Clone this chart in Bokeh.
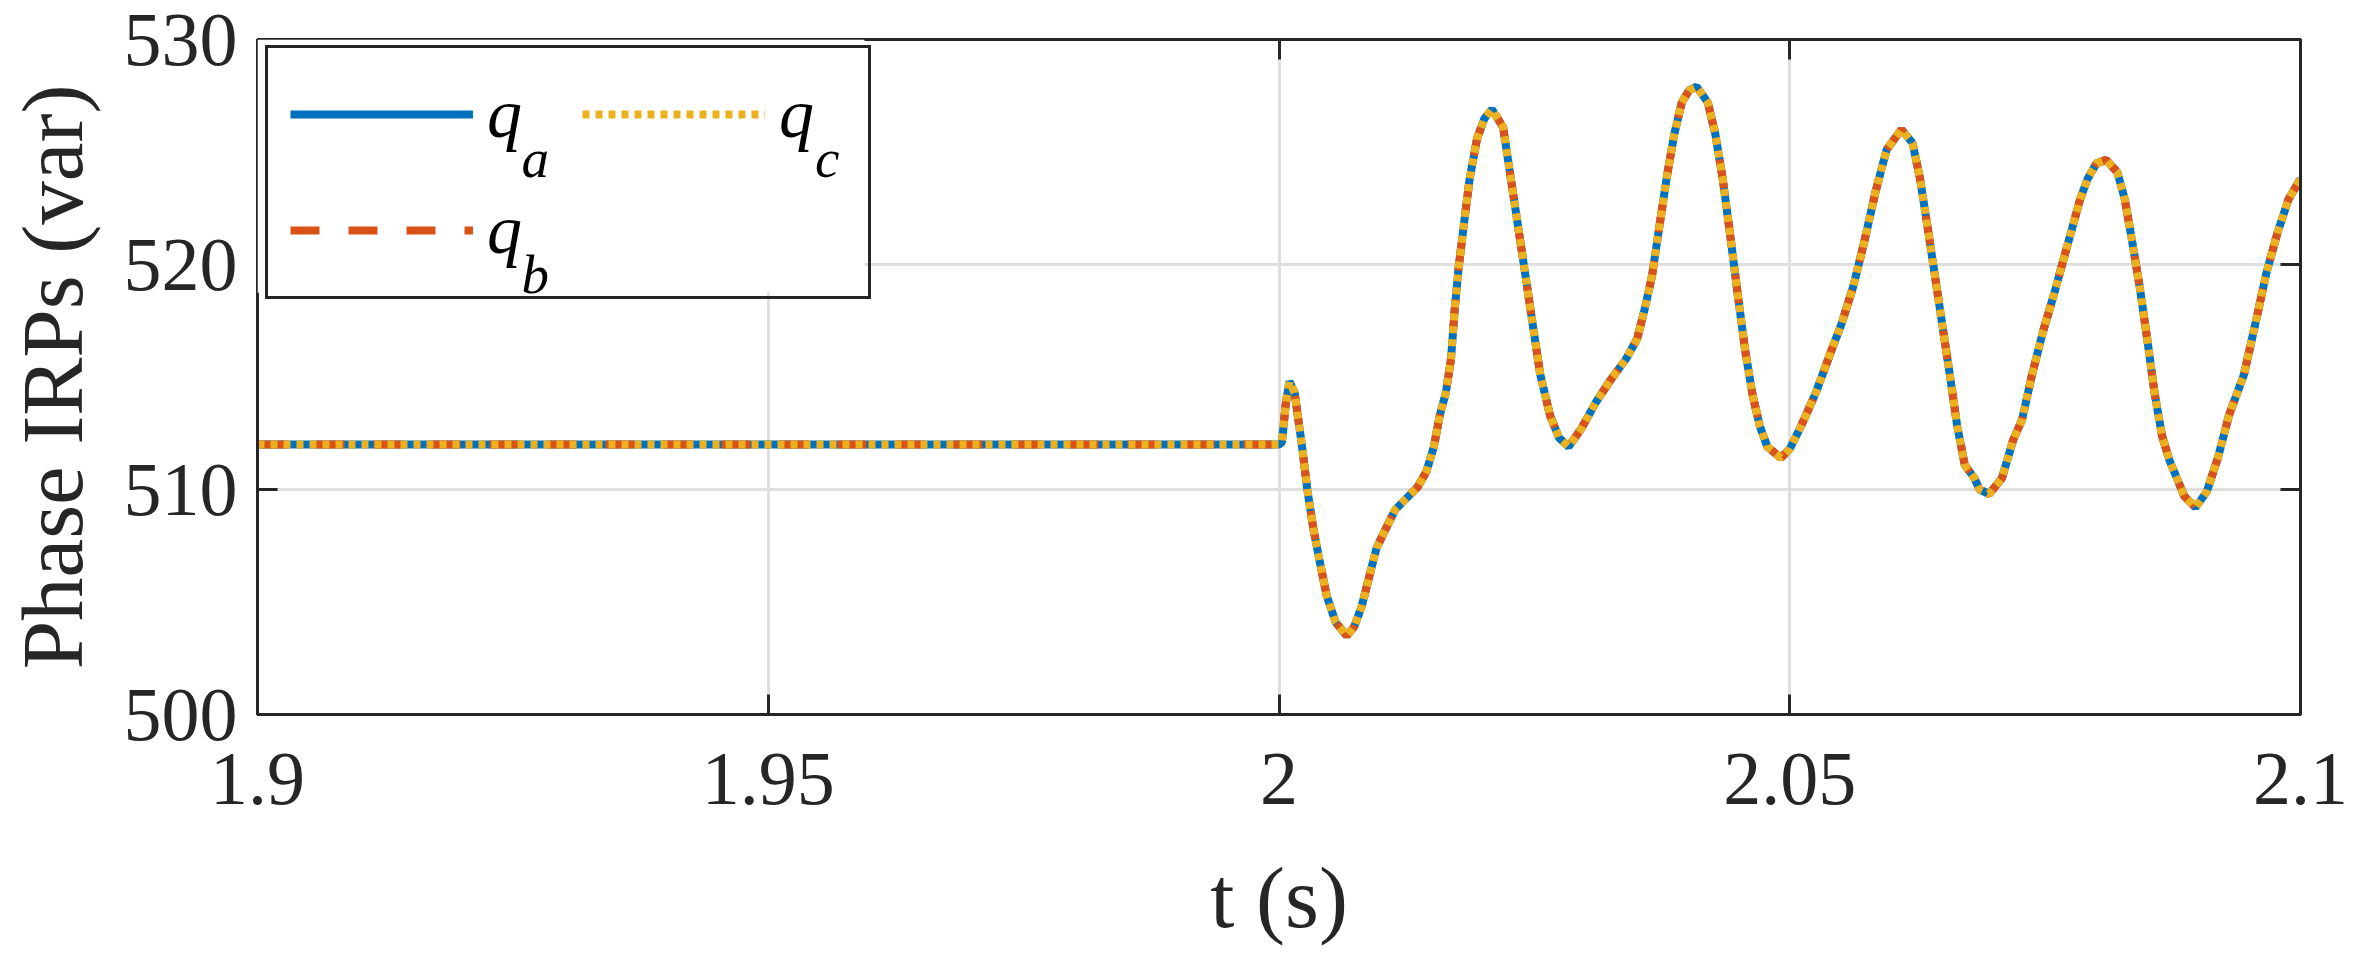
from bokeh.plotting import figure
from bokeh.models import (Range1d, FixedTicker, LinearAxis, CustomJSTickFormatter,
                          Legend, LegendItem, Label, BoxAnnotation)
from bokeh.embed import file_html
from bokeh.resources import INLINE

# ---------------- data ----------------
t = [1.9, 2.0, 2.00029, 2.00066, 2.00102, 2.00153, 2.00226, 2.00277, 2.00335, 2.00394,
     2.00466, 2.00554, 2.00663, 2.00736, 2.00809, 2.00882, 2.00955, 2.01050, 2.01137, 2.01246,
     2.01356, 2.01443, 2.01516, 2.01574, 2.01633, 2.01684, 2.01720, 2.01757, 2.01808, 2.01866,
     2.01939, 2.02012, 2.02085, 2.02194, 2.02267, 2.02340, 2.02413, 2.02485, 2.02558, 2.02653,
     2.02741, 2.02835, 2.02959, 2.03105, 2.03251, 2.03397, 2.03506, 2.03579, 2.03652, 2.03724,
     2.03797, 2.03870, 2.03943, 2.04016, 2.04089, 2.04198, 2.04271, 2.04344, 2.04417, 2.04490,
     2.04563, 2.04636, 2.04708, 2.04781, 2.04913, 2.05000, 2.05109, 2.05255, 2.05401, 2.05510,
     2.05620, 2.05729, 2.05838, 2.05948, 2.06093, 2.06202, 2.06276, 2.06348, 2.06421, 2.06494,
     2.06567, 2.06640, 2.06713, 2.06808, 2.06858, 2.06953, 2.07077, 2.07187, 2.07274, 2.07369,
     2.07478, 2.07588, 2.07697, 2.07770, 2.07843, 2.07915, 2.08003, 2.08098, 2.08207, 2.08280,
     2.08353, 2.08426, 2.08499, 2.08571, 2.08644, 2.08717, 2.08863, 2.08972, 2.09082, 2.09191,
     2.09300, 2.09446, 2.09555, 2.09665, 2.09774, 2.09883, 2.1]

q_a = [512.0, 512.0, 512.1, 513.8, 514.8, 514.3, 511.9, 510.0, 508.3, 506.9,
       505.3, 504.1, 503.5, 503.9, 504.8, 506.1, 507.4, 508.3, 509.1, 509.6,
       510.1, 510.8, 511.9, 513.3, 514.3, 515.8, 518.0, 519.8, 521.7, 523.8,
       525.6, 526.5, 526.9, 526.1, 523.9, 521.7, 519.5, 517.3, 515.1, 513.3,
       512.3, 511.9, 512.7, 513.9, 514.9, 515.8, 516.7, 518.0, 519.5, 521.7,
       523.9, 525.8, 527.2, 527.75, 527.9, 527.2, 525.8, 523.8, 521.3, 518.7,
       516.2, 514.2, 512.8, 511.9, 511.4, 511.8, 512.8, 514.3, 516.1, 517.4,
       519.0, 521.0, 523.2, 525.1, 526.0, 525.4, 523.8, 521.7, 519.5, 517.3,
       515.1, 512.8, 511.1, 510.5, 510.0, 509.8, 510.5, 512.2, 513.1, 515.05,
       517.0, 518.7, 520.5, 521.7, 522.9, 523.8, 524.5, 524.65, 524.1, 522.9,
       521.0, 519.0, 516.7, 514.3, 512.4, 511.3, 509.7, 509.2, 509.9, 511.4,
       513.3, 515.1, 517.3, 519.6, 521.4, 522.9, 523.8]
# the three phase curves coincide in the figure
q_b = list(q_a)
q_c = list(q_a)

series_label = ["q", "q", "q"]
subscripts = ["a", "b", "c"]
x_ticks = [1.9, 1.95, 2.0, 2.05, 2.1]
y_ticks = [500, 510, 520, 530]

# ---------------- style ----------------
FONT = "Liberation Serif"
DARK = "#262626"
C_A, C_B, C_C = "#0072BD", "#D95319", "#EDB120"

p = figure(frame_width=2043, frame_height=675,
           x_range=Range1d(1.9, 2.1), y_range=Range1d(500, 530),
           output_backend="svg", toolbar_location=None,
           min_border_left=256, min_border_right=51, min_border_top=39, min_border_bottom=226,
           background_fill_color="white", border_fill_color="white",
           outline_line_color=DARK, outline_line_width=3, outline_line_alpha=1.0)

xa = p.below[0]
ya = p.left[0]
xa.ticker = FixedTicker(ticks=x_ticks)
xa.formatter = CustomJSTickFormatter(code="return Number(tick.toFixed(2)).toString();")
ya.ticker = FixedTicker(ticks=y_ticks)

for ax in (xa, ya):
    ax.major_label_text_font = FONT
    ax.major_label_text_font_size = "76px"
    ax.major_label_text_color = DARK
    ax.major_tick_in = 20
    ax.major_tick_out = 0
    ax.major_tick_line_width = 3
    ax.major_tick_line_color = DARK
    ax.minor_tick_line_color = None
    ax.axis_line_width = 3
    ax.axis_line_color = DARK
    ax.axis_label_text_font = FONT
    ax.axis_label_text_font_size = "87px"
    ax.axis_label_text_font_style = "normal"
    ax.axis_label_text_color = DARK

xa.axis_label = "t (s)"
ya.axis_label = "Phase IRPs (var)"
xa.major_label_standoff = 39
ya.major_label_standoff = 20
xa.axis_label_standoff = 42
ya.axis_label_standoff = 20

blank = "return '';"
top = LinearAxis(ticker=FixedTicker(ticks=x_ticks), formatter=CustomJSTickFormatter(code=blank))
right = LinearAxis(ticker=FixedTicker(ticks=y_ticks), formatter=CustomJSTickFormatter(code=blank))
for ax in (top, right):
    ax.major_tick_in = 20
    ax.major_tick_out = 0
    ax.major_tick_line_width = 3
    ax.major_tick_line_color = DARK
    ax.minor_tick_line_color = None
    ax.axis_line_width = 3
    ax.axis_line_color = DARK
    ax.major_label_standoff = 0
    ax.major_label_text_font_size = "1px"
p.add_layout(top, "above")
p.add_layout(right, "right")

p.xgrid.ticker = FixedTicker(ticks=x_ticks)
p.ygrid.ticker = FixedTicker(ticks=y_ticks)
for g in (p.xgrid, p.ygrid):
    g.grid_line_color = "#dfdfdf"
    g.grid_line_width = 3

r_a = p.line(t, q_a, line_color=C_A, line_width=8)
r_b = p.line(t, q_b, line_color=C_B, line_width=8, line_dash="29 29")
r_c = p.line(t, q_c, line_color=C_C, line_width=8, line_dash="7 6")

# white backing for the legend area (the legend itself is drawn with a transparent fill)
p.add_layout(BoxAnnotation(left=1.9, right=1.95942, top=530, bottom=518.75,
                           fill_color="white", fill_alpha=1.0, line_color=None))

legend = Legend(items=[LegendItem(label=series_label[0], renderers=[r_a]),
                       LegendItem(label=series_label[1], renderers=[r_b]),
                       LegendItem(label=series_label[2], renderers=[r_c])],
                nrows=2, location=(8, 415), padding=22, spacing=28,
                glyph_width=183, glyph_height=88, label_height=88, label_width=67,
                label_standoff=14, label_text_font=FONT, label_text_font_style="italic",
                label_text_font_size="70px", label_text_color="black",
                border_line_color=DARK, border_line_width=3, border_line_alpha=1.0,
                background_fill_color="white", background_fill_alpha=0.0)
p.add_layout(legend)

# subscripts of the legend labels
sub_pos = [(1.92584, 524.7), (1.92584, 519.54), (1.95458, 524.7)]
for s, (sx, sy) in zip(subscripts, sub_pos):
    p.add_layout(Label(x=sx, y=sy, text=s, text_font=FONT, text_font_style="italic",
                       text_font_size="55px", text_color="black", text_baseline="alphabetic"))

open("out.html", "w").write(file_html(p, INLINE, title="Phase IRPs"))
